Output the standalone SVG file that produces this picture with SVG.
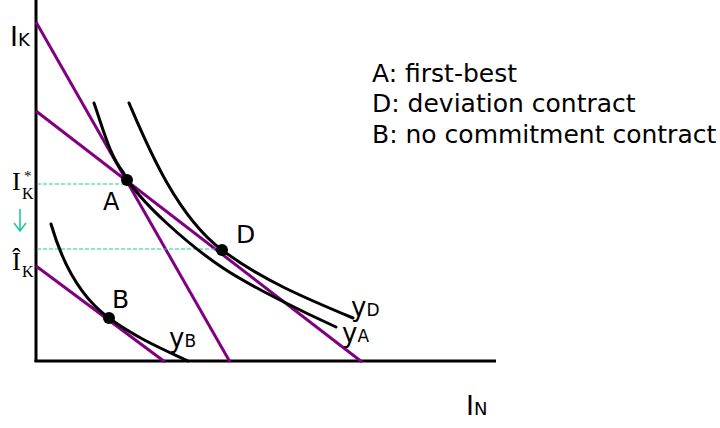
<svg xmlns="http://www.w3.org/2000/svg" width="720" height="428" viewBox="0 0 720 428">
<style>
.ax{stroke:#000;stroke-width:3;fill:none}
.bud{stroke:#800080;stroke-width:3;fill:none}
.iso{stroke:#000;stroke-width:3;fill:none;stroke-linecap:round}
.dash{stroke:#20c8a0;stroke-width:1.2;stroke-dasharray:4 2;fill:none}
.t{font-family:"DejaVu Sans","Liberation Sans",sans-serif;fill:#000}
.s{font-family:"Liberation Serif","Times New Roman",serif;fill:#000}
</style>
<g id="axes">
<line class="ax" x1="36" y1="0" x2="36" y2="362"/>
<line class="ax" x1="34.5" y1="361" x2="496" y2="361"/>
<text class="t" x="10" y="46" font-size="27">I<tspan font-size="18">K</tspan></text>
<text class="t" x="466" y="415" font-size="27">I<tspan font-size="18">N</tspan></text>
</g>
<g id="budget-lines">
<line class="bud" x1="36" y1="22" x2="230" y2="362"/>
<line class="bud" x1="36" y1="111" x2="362" y2="362"/>
<line class="bud" x1="36" y1="266" x2="165" y2="362"/>
</g>
<g id="guides">
<line class="dash" x1="37" y1="184" x2="127" y2="184"/>
<line class="dash" x1="37" y1="249" x2="222" y2="249"/>
<path d="M20,209 V231 M14,223 L20,231 L26,223" stroke="#20c8a0" stroke-width="1.6" fill="none"/>
<text class="s" x="12" y="190" font-size="26">I</text>
<text class="s" x="24" y="181" font-size="15">*</text>
<text class="s" x="22" y="199" font-size="16">K</text>
<text class="s" x="12" y="270" font-size="26">Î</text>
<text class="s" x="22" y="277" font-size="16">K</text>
</g>
<g id="curve-yD">
<path class="iso" d="M129,103 C145,140 175,215 222,250 C262,280 305,298 353,318"/>
<text class="t" x="351" y="316" font-size="26">y<tspan font-size="17">D</tspan></text>
</g>
<g id="curve-yA">
<path class="iso" d="M94,103 C105,135 110,155 123,172 C138,202 193,248 223,268 C250,286 305,313 336,327"/>
<text class="t" x="342" y="342" font-size="26">y<tspan font-size="17">A</tspan></text>
</g>
<g id="curve-yB">
<path class="iso" d="M51,224 C62,262 80,297 109,318 C135,337 160,348 188,361"/>
<text class="t" x="169" y="347" font-size="26">y<tspan font-size="17">B</tspan></text>
</g>
<g id="point-A">
<circle cx="127" cy="180" r="6" fill="#000"/>
<text class="t" x="103" y="210" font-size="24">A</text>
</g>
<g id="point-D">
<circle cx="222" cy="250" r="6" fill="#000"/>
<text class="t" x="236" y="243" font-size="25">D</text>
</g>
<g id="point-B">
<circle cx="109" cy="318" r="6" fill="#000"/>
<text class="t" x="112" y="308" font-size="25">B</text>
</g>
<g id="legend">
<text class="t" x="372" y="82" font-size="25">A: first-best</text>
<text class="t" x="372" y="112" font-size="25">D: deviation contract</text>
<text class="t" x="372" y="143" font-size="25">B: no commitment contract</text>
</g>
</svg>
